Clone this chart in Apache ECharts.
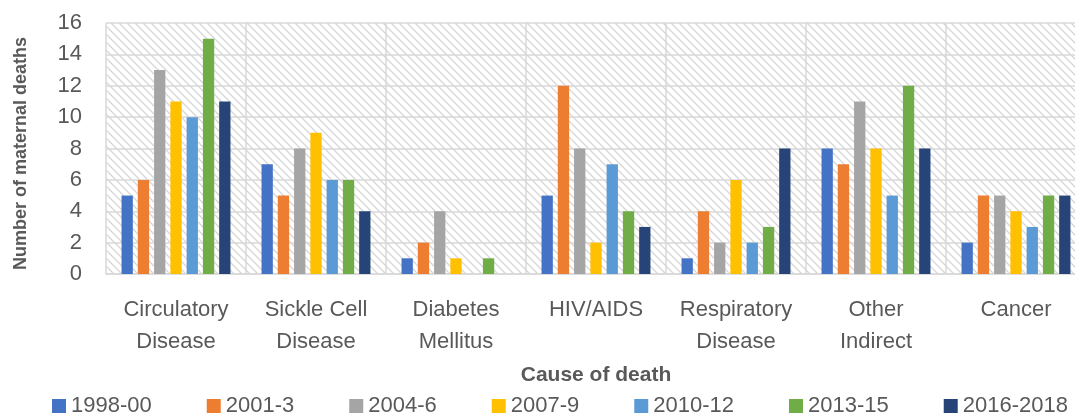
<!DOCTYPE html>
<html>
<head>
<meta charset="utf-8">
<script src="https://cdn.jsdelivr.net/npm/echarts@6/dist/echarts.min.js"></script>
<style>
  html, body { margin: 0; padding: 0; background: #fff; }
  #chart { width: 1075px; height: 415px; }
</style>
</head>
<body>
<div id="chart"></div>
<script>
let causes = ['Circulatory\nDisease', 'Sickle Cell\nDisease', 'Diabetes\nMellitus', 'HIV/AIDS', 'Respiratory\nDisease', 'Other\nIndirect', 'Cancer'];
let periods = ['1998-00', '2001-3', '2004-6', '2007-9', '2010-12', '2013-15', '2016-2018'];

let d1998 = [5, 7, 1, 5, 1, 8, 2];
let d2001 = [6, 5, 2, 12, 4, 7, 5];
let d2004 = [13, 8, 4, 8, 2, 11, 5];
let d2007 = [11, 9, 1, 2, 6, 8, 4];
let d2010 = [10, 6, 0, 7, 2, 5, 3];
let d2013 = [15, 6, 1, 4, 3, 12, 5];
let d2016 = [11, 4, 0, 3, 8, 8, 5];

let seriesData = [d1998, d2001, d2004, d2007, d2010, d2013, d2016];
let colors = ['#4472C4', '#ED7D31', '#A5A5A5', '#FFC000', '#5B9BD5', '#70AD47', '#264478'];

let font = '"Liberation Sans", Arial, sans-serif';

// diagonal hatch for the plot area
function hatch() {
    let c = document.createElement('canvas');
    c.width = 8; c.height = 8;
    let ctx = c.getContext('2d');
    ctx.fillStyle = '#ffffff';
    ctx.fillRect(0, 0, 8, 8);
    ctx.strokeStyle = '#d6d6d6';
    ctx.lineWidth = 1.3;
    ctx.beginPath();
    ctx.moveTo(-1, -1); ctx.lineTo(9, 9);
    ctx.moveTo(-1, 7); ctx.lineTo(1, 9);
    ctx.moveTo(7, -1); ctx.lineTo(9, 1);
    ctx.stroke();
    return { image: c, repeat: 'repeat' };
}

let chart = echarts.init(document.getElementById('chart'));

let option = {
    animation: false,
    color: colors,
    grid: {
        left: 106,
        right: -11,
        top: 23,
        bottom: 141,
        containLabel: false,
        outerBoundsMode: 'none',
        show: true,
        backgroundColor: hatch(),
        borderWidth: 0
    },
    legend: {
        data: periods,
        left: 47,
        top: 390,
        itemWidth: 14,
        itemHeight: 14,
        itemGap: 55,
        icon: 'rect',
        textStyle: {
            fontFamily: font,
            fontSize: 22,
            color: '#595959'
        }
    },
    xAxis: {
        type: 'category',
        data: causes,
        name: 'Cause of death',
        nameLocation: 'middle',
        nameGap: 91,
        nameTextStyle: {
            fontFamily: font,
            fontSize: 21,
            fontWeight: 'bold',
            color: '#595959'
        },
        axisLine: { lineStyle: { color: '#d9d9d9', width: 1.5 } },
        axisTick: { show: false },
        splitLine: { show: true, interval: 0, lineStyle: { color: '#d9d9d9', width: 1.5 } },
        axisLabel: {
            interval: 0,
            fontFamily: font,
            fontSize: 22,
            color: '#595959',
            lineHeight: 32,
            margin: 20
        }
    },
    yAxis: {
        type: 'value',
        min: 0,
        max: 16,
        interval: 2,
        name: 'Number of maternal deaths',
        nameLocation: 'middle',
        nameGap: 76,
        nameTextStyle: {
            fontFamily: font,
            fontSize: 18,
            fontWeight: 'bold',
            color: '#595959',
            padding: [0, 10, 0, 0]
        },
        axisLine: { show: false },
        axisTick: { show: false },
        splitLine: { lineStyle: { color: '#d9d9d9', width: 1.5 } },
        axisLabel: {
            fontFamily: font,
            fontSize: 22,
            color: '#595959',
            margin: 24
        }
    },
    series: periods.map((p, i) => ({
        name: p,
        type: 'bar',
        data: seriesData[i],
        barWidth: 11.3,
        barGap: '44%'
    }))
};

chart.setOption(option);
</script>
</body>
</html>
